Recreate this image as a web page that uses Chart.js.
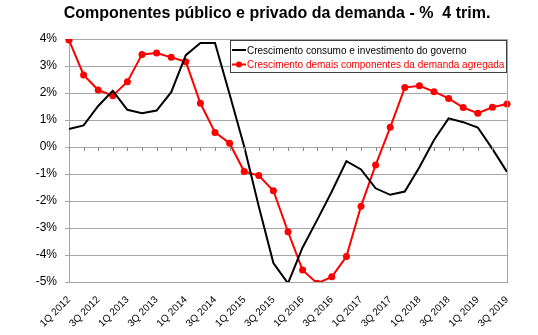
<!DOCTYPE html>
<html>
<head>
<meta charset="utf-8">
<script src="https://cdn.jsdelivr.net/npm/chart.js@4"></script>
<style>
  body { margin: 0; background: #fff; }
  canvas { display: block; }
</style>
</head>
<body>
<canvas id="grafico" width="538" height="335"></canvas>
<script>
// Dados (variação % acumulada em 4 trimestres)
const trimestres = [
  "1Q 2012", "2Q 2012", "3Q 2012", "4Q 2012",
  "1Q 2013", "2Q 2013", "3Q 2013", "4Q 2013",
  "1Q 2014", "2Q 2014", "3Q 2014", "4Q 2014",
  "1Q 2015", "2Q 2015", "3Q 2015", "4Q 2015",
  "1Q 2016", "2Q 2016", "3Q 2016", "4Q 2016",
  "1Q 2017", "2Q 2017", "3Q 2017", "4Q 2017",
  "1Q 2018", "2Q 2018", "3Q 2018", "4Q 2018",
  "1Q 2019", "2Q 2019", "3Q 2019"
];
const governo = [
  0.67, 0.8, 1.52, 2.08, 1.38, 1.25, 1.35, 2.03,
  3.4, 3.85, 3.85, 1.95, 0.02, -2.2, -4.3, -5.05,
  -3.72, -2.7, -1.65, -0.52, -0.83, -1.53, -1.77, -1.65,
  -0.75, 0.26, 1.06, 0.92, 0.72, -0.07, -0.92
];
const demais = [
  3.96, 2.67, 2.11, 1.9, 2.42, 3.43, 3.48, 3.32,
  3.16, 1.62, 0.54, 0.14, -0.91, -1.06, -1.62, -3.14,
  -4.56, -5.05, -4.81, -4.06, -2.19, -0.67, 0.73, 2.2,
  2.27, 2.05, 1.8, 1.46, 1.25, 1.47, 1.59
];
const nomesSeries = [
  "Crescimento consumo e investimento do governo",
  "Crescimento demais componentes da demanda agregada"
];
const titulo = "Componentes público e privado da demanda - %  4 trim.";

const fonte = "'Liberation Sans', Arial, sans-serif";
const cinza = "#a6a6a6";

// Título, moldura, marcas no eixo do zero e legenda
const extras = {
  id: "extras",
  afterDraw(chart) {
    const ctx = chart.ctx;
    const area = chart.chartArea;
    const x = chart.scales.x;
    const y = chart.scales.y;

    ctx.save();
    ctx.fillStyle = "#000";
    ctx.font = "bold 16px " + fonte;
    ctx.textAlign = "center";
    ctx.textBaseline = "middle";
    ctx.fillText(titulo, 277, 14);

    // borda direita da área do gráfico
    ctx.strokeStyle = cinza;
    ctx.lineWidth = 1;
    ctx.beginPath();
    ctx.moveTo(area.right + 0.5, area.top);
    ctx.lineTo(area.right + 0.5, area.bottom);
    ctx.stroke();

    // marcas do eixo das categorias sobre a linha do 0%
    const y0 = Math.round(y.getPixelForValue(0));
    ctx.strokeStyle = "#888";
    ctx.beginPath();
    trimestres.forEach((t, i) => {
      const px = Math.round(x.getPixelForValue(i)) + 0.5;
      ctx.moveTo(px, y0);
      ctx.lineTo(px, y0 + 4);
    });
    ctx.stroke();

    // legenda
    const lx = 230, ly = Math.round(area.top) + 1, lw = area.right - 230, lh = 33;
    ctx.fillStyle = "#fff";
    ctx.fillRect(lx, ly, lw, lh);
    ctx.strokeStyle = "#404040";
    ctx.strokeRect(lx + 0.5, ly + 0.5, lw - 1, lh - 1);

    const cores = ["#000000", "#ff0000"];
    ctx.font = "10px " + fonte;
    ctx.textAlign = "left";
    nomesSeries.forEach((nome, i) => {
      const ry = ly + 10 + i * 14.5;
      ctx.strokeStyle = cores[i];
      ctx.lineWidth = 2;
      ctx.beginPath();
      ctx.moveTo(232, ry);
      ctx.lineTo(246, ry);
      ctx.stroke();
      if (i === 1) {
        ctx.fillStyle = cores[i];
        ctx.beginPath();
        ctx.arc(239, ry, 3, 0, Math.PI * 2);
        ctx.fill();
      }
      ctx.fillStyle = cores[i];
      ctx.fillText(nome, 247, ry + 1);
    });
    ctx.restore();
  }
};

const ctx = document.getElementById("grafico").getContext("2d");
new Chart(ctx, {
  type: "line",
  data: {
    labels: trimestres,
    datasets: [
      {
        label: nomesSeries[0],
        data: governo,
        borderColor: "#000000",
        borderWidth: 2,
        pointRadius: 0,
        tension: 0
      },
      {
        label: nomesSeries[1],
        data: demais,
        borderColor: "#ff0000",
        backgroundColor: "#ff0000",
        borderWidth: 2,
        pointRadius: 3.5,
        pointBackgroundColor: "#ff0000",
        pointBorderWidth: 0,
        tension: 0
      }
    ]
  },
  options: {
    responsive: false,
    animation: false,
    layout: { padding: { top: 39, right: 31, left: 0, bottom: 0 } },
    plugins: {
      legend: { display: false },
      title: { display: false },
      tooltip: { enabled: false }
    },
    scales: {
      x: {
        offset: false,
        grid: { display: false },
        border: { display: true, color: cinza },
        ticks: {
          autoSkip: false,
          maxRotation: 45,
          minRotation: 45,
          padding: 4,
          color: "#000",
          font: { family: fonte, size: 10 },
          callback: (v, i) => (i % 2 === 0 ? trimestres[i] : "")
        },
        afterFit: (s) => { s.height = 53; }
      },
      y: {
        min: -5,
        max: 4,
        ticks: {
          stepSize: 1,
          padding: 8,
          color: "#000",
          font: { family: fonte, size: 12 },
          callback: (v) => v + "%"
        },
        grid: { color: cinza, tickLength: 4 },
        border: { color: cinza },
        afterFit: (s) => { s.width = 69; }
      }
    }
  },
  plugins: [extras]
});
</script>
</body>
</html>
